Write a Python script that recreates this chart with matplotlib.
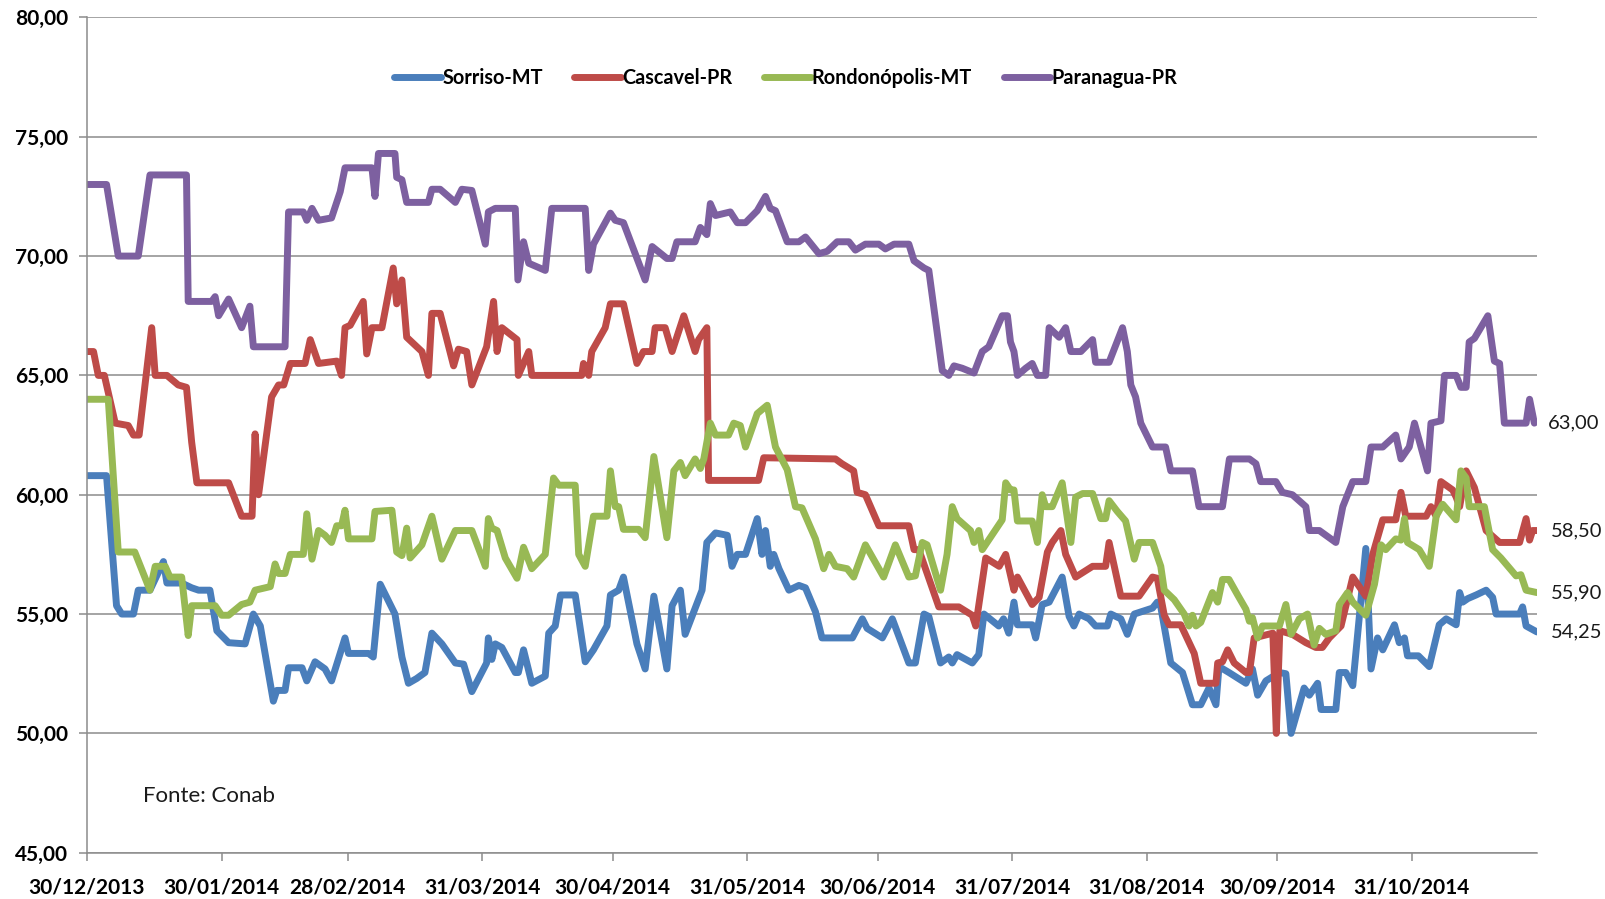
import matplotlib

matplotlib.use("Agg")
import matplotlib.pyplot as plt
import numpy as np
import pandas as pd

plt.rcParams["font.family"] = ["Lato", "DejaVu Sans"]

INICIO = pd.Timestamp("2013-12-30")   # primeiro dia da série
FIM_DIAS = 333.8                       # último dia plotado (dias desde INICIO)

# (dias desde 30/12/2013, preço)
sorriso = [
    (0, 60.8), (4.5, 60.8), (6.8, 55.35), (8, 55.0), (10.7, 55.0), (11.8, 56.0), (14.5, 56.0),
    (17.6, 57.2), (18.4, 56.3), (21.8, 56.3), (24.1, 56.1), (25.7, 56.0), (28.3, 56.0), (29.9, 54.3),
    (32.6, 53.8), (36.4, 53.75), (38.3, 55.0), (39.9, 54.5), (42.9, 51.35), (43.7, 51.8), (45.6, 51.8),
    (46.4, 52.75), (49.5, 52.75), (50.6, 52.2), (52.5, 53.0), (54.8, 52.7), (56.3, 52.2), (59.4, 54.0),
    (60.2, 53.35), (64.8, 53.35), (65.9, 53.2), (67.5, 56.25), (70.9, 55.0), (72.5, 53.2), (74, 52.1),
    (75.9, 52.3), (77.8, 52.55), (79.4, 54.2), (81.7, 53.75), (84.8, 52.95), (86.7, 52.9), (88.6, 51.75),
    (92, 52.95), (92.4, 54.0), (93.2, 53.1), (94, 53.75), (95.5, 53.6), (98.6, 52.55), (99.3, 52.55),
    (100.5, 53.5), (102.4, 52.1), (105.5, 52.4), (106.3, 54.2), (107.8, 54.5), (109, 55.8), (112.4, 55.8),
    (114.7, 53.0), (116.6, 53.5), (119.7, 54.5), (120.5, 55.8), (122.4, 56.0), (123.5, 56.55), (126.6, 53.75),
    (128.5, 52.7), (130.5, 55.75), (133.5, 52.7), (134.7, 55.35), (136.6, 56.0), (137.7, 54.15), (141.6, 56.0),
    (142.7, 58.0), (144.7, 58.4), (147.4, 58.3), (148.5, 57.0), (149.7, 57.5), (151.6, 57.5), (154.3, 59.0),
    (155.4, 57.5), (156.2, 58.5), (157.3, 57.0), (158.1, 57.5), (159.3, 56.9), (161.6, 56.0), (163.9, 56.2),
    (165.4, 56.1), (167.7, 55.1), (169.2, 54.0), (176.2, 54.0), (178.5, 54.8), (179.6, 54.4), (183.1, 54.0),
    (185.4, 54.8), (189.2, 52.95), (190.7, 52.95), (192.7, 55.0), (193.8, 54.9), (196.5, 52.95), (198.4, 53.2),
    (199.2, 52.95), (200.3, 53.3), (203.8, 52.95), (205.3, 53.3), (206.5, 55.0), (209.9, 54.5), (211, 54.8),
    (212.2, 54.2), (213.4, 55.5), (214.2, 54.55), (217.6, 54.55), (218.4, 54.0), (219.9, 55.4), (221.5, 55.5),
    (224.5, 56.55), (226.1, 54.9), (227.2, 54.5), (228.4, 55.0), (230.7, 54.8), (232.2, 54.5), (234.9, 54.5),
    (235.7, 55.0), (238, 54.8), (239.5, 54.15), (241.1, 55.0), (245.3, 55.25), (246.4, 55.5), (247.2, 55.3),
    (249.5, 52.95), (252.2, 52.55), (254.5, 51.2), (256.4, 51.2), (258.3, 51.9), (259.9, 51.2), (260.6, 52.8),
    (262.9, 52.55), (266.8, 52.1), (268.3, 52.7), (269.5, 51.6), (271.4, 52.2), (274.5, 52.55), (276, 52.5),
    (277.2, 50.0), (280.2, 51.9), (281.4, 51.6), (283.3, 52.1), (284.1, 51.0), (287.5, 51.0), (288.3, 52.55),
    (289.8, 52.55), (291.4, 52.0), (294.4, 57.75), (295.6, 52.7), (297.1, 54.0), (298.3, 53.5), (301, 54.55),
    (302.1, 53.8), (303.3, 54.0), (304, 53.25), (306.5, 53.25), (309, 52.8), (311.3, 54.55), (312.9, 54.8),
    (315.2, 54.55), (316, 55.9), (316.7, 55.5), (317.9, 55.65), (319.8, 55.8), (322.1, 56.0), (323.6, 55.7),
    (324.4, 55.0), (329.8, 55.0), (330.5, 55.3), (331.3, 54.5), (333.8, 54.25),
]

cascavel = [
    (0, 66.0), (1.5, 66.0), (2.6, 65.0), (4.0, 65.0), (6.5, 63.0), (9.5, 62.9), (10.7, 62.5), (12.0, 62.5),
    (14.9, 67.0), (15.7, 65.0), (18.4, 65.0), (21, 64.6), (22.9, 64.5), (24.1, 62.2), (25.3, 60.5), (32.6, 60.5),
    (35.6, 59.1), (38, 59.1), (38.7, 62.55), (39.5, 60.0), (42.5, 64.1), (44.1, 64.6), (45.3, 64.6), (46.8, 65.5),
    (50.2, 65.5), (51.4, 66.5), (53.3, 65.5), (57.5, 65.6), (58.6, 65.0), (59.4, 67.0), (60.6, 67.1), (63.6, 68.1),
    (64.4, 65.9), (65.6, 67.0), (67.9, 67.0), (70.5, 69.5), (71.3, 68.0), (72.5, 69.0), (73.6, 66.6), (77.1, 66.0),
    (78.6, 65.0), (79.4, 67.6), (81.3, 67.6), (84.4, 65.4), (85.5, 66.1), (87.4, 66.0), (88.6, 64.6), (92, 66.2),
    (93.6, 68.1), (94.4, 66.0), (95.5, 67.0), (99, 66.5), (99.3, 65.0), (101.7, 66.0), (102.4, 65.0), (113.9, 65.0),
    (114.3, 65.5), (115.5, 65.0), (116.2, 66.0), (119.3, 67.0), (120.5, 68.0), (123.5, 68.0), (126.6, 65.5),
    (128.1, 66.0), (130.1, 66.0), (130.8, 67.0), (133.1, 67.0), (134.7, 66.0), (137.4, 67.5), (140, 66.0),
    (140.8, 66.5), (142.7, 67.0), (143.1, 60.6), (154.6, 60.6), (155.8, 61.55), (172.3, 61.5), (173.8, 61.3),
    (176.5, 61.0), (177.3, 60.1), (179.2, 60.0), (182.3, 58.7), (189.2, 58.7), (190.4, 57.7), (191.5, 57.7),
    (196.1, 55.3), (200.7, 55.3), (203.8, 54.95), (204.6, 54.5), (206.9, 57.35), (210, 57.0), (211.5, 57.5),
    (213.4, 56.0), (214.2, 56.55), (217.6, 55.4), (219.2, 55.7), (221.1, 57.6), (222.2, 58.0), (224.2, 58.5),
    (225.3, 57.5), (227.6, 56.55), (231.5, 57.0), (234.5, 57.0), (235.3, 58.0), (238, 55.75), (242.2, 55.75),
    (245.3, 56.55), (246.4, 56.5), (248, 54.95), (249.1, 54.55), (251.8, 54.55), (254.9, 53.35), (256.4, 52.1),
    (259.9, 52.1), (260.3, 52.95), (261.4, 53.0), (262.6, 53.5), (264.1, 52.95), (266.8, 52.55), (267.6, 52.55),
    (268.7, 54.0), (273.0, 54.2), (273.8, 50.0), (274.6, 54.3), (277.5, 54.15), (280.6, 53.8), (282.9, 53.6),
    (284.4, 53.6), (286, 54.0), (288.7, 54.5), (291.4, 56.55), (294.4, 55.75), (296, 57.5), (298.3, 58.95),
    (301.3, 58.95), (302.5, 60.1), (303.6, 59.1), (308.3, 59.1), (309.4, 59.5), (310.6, 59.1), (311.7, 60.55),
    (314.4, 60.2), (315.2, 59.9), (316, 59.5), (317.5, 61.0), (319.4, 60.3), (322.1, 58.5), (325.2, 58.0),
    (329.8, 58.0), (331.3, 59.0), (332.1, 58.1), (332.8, 58.5), (333.8, 58.5),
]

rondonopolis = [
    (0, 64.0), (4.9, 64.0), (7.2, 57.6), (11, 57.6), (14.5, 56.0), (15.7, 57.0), (18, 57.0), (19.1, 56.55),
    (21.8, 56.55), (23.3, 54.1), (24.1, 55.35), (29.5, 55.35), (31, 54.95), (32.6, 54.95), (35.6, 55.4),
    (37.5, 55.5), (38.7, 56.0), (42.2, 56.15), (43.3, 57.1), (44.1, 56.7), (45.6, 56.7), (46.8, 57.5),
    (49.8, 57.5), (50.6, 59.2), (51.8, 57.3), (53.3, 58.5), (54.8, 58.3), (56.3, 58.0), (57.5, 58.7),
    (58.6, 58.7), (59.4, 59.35), (60.2, 58.15), (65.6, 58.15), (66.3, 59.3), (70.2, 59.35), (71.3, 57.6),
    (72.5, 57.45), (73.6, 58.6), (74.4, 57.35), (77.1, 57.9), (79.4, 59.1), (81.7, 57.3), (84.8, 58.5),
    (88.6, 58.5), (91.7, 57.0), (92.4, 59.0), (93.2, 58.6), (94.4, 58.5), (96.3, 57.35), (99, 56.5),
    (100.5, 57.8), (102.4, 56.9), (105.5, 57.5), (107.4, 60.7), (108.6, 60.4), (112.4, 60.4), (113.2, 57.5),
    (114.7, 57.0), (116.6, 59.1), (119.7, 59.1), (120.5, 61.0), (121.6, 59.5), (122.4, 59.5), (123.5, 58.55),
    (127, 58.55), (128.5, 58.2), (130.5, 61.6), (133.5, 58.2), (135.1, 61.0), (136.6, 61.35), (137.7, 60.8),
    (140, 61.5), (141.2, 61.1), (142, 61.5), (143.5, 63.0), (144.7, 62.5), (147.7, 62.5), (148.9, 63.0),
    (150.4, 62.9), (151.6, 62.0), (154.3, 63.4), (156.6, 63.75), (158.5, 62.0), (161.2, 61.05), (163.1, 59.5),
    (164.6, 59.45), (167.7, 58.15), (169.6, 56.9), (170.8, 57.5), (172.3, 57.0), (175, 56.9), (176.5, 56.55),
    (179.2, 57.9), (183.4, 56.55), (186.1, 57.9), (189.2, 56.55), (190.7, 56.6), (192.3, 58.0), (193.4, 57.9),
    (196.5, 56.0), (198, 57.5), (199.2, 59.5), (200.3, 59.0), (203.4, 58.5), (204.2, 58.0), (205.3, 58.5),
    (206.1, 57.7), (210.7, 58.95), (211.5, 60.5), (212.6, 60.2), (213.4, 60.2), (214.2, 58.9), (217.6, 58.9),
    (218.8, 58.0), (219.9, 60.0), (220.7, 59.5), (222.2, 59.5), (224.5, 60.5), (226.5, 58.0), (227.6, 59.9),
    (229.2, 60.05), (231.5, 60.05), (233.4, 59.0), (234.5, 59.0), (235.3, 59.75), (237.2, 59.3), (239.1, 58.9),
    (241.1, 57.3), (242.2, 58.0), (245.3, 58.0), (247.2, 57.0), (248, 56.0), (250.3, 55.6), (252.6, 55.0),
    (253.7, 54.5), (254.5, 54.95), (255.3, 54.5), (256.4, 54.65), (259.1, 55.9), (260.3, 55.5), (261.4, 56.45),
    (262.9, 56.45), (264.9, 55.8), (266.8, 55.2), (267.6, 54.7), (268.3, 54.85), (269.5, 54.0), (270.6, 54.5),
    (274.5, 54.5), (276, 55.4), (277.2, 54.15), (279.1, 54.8), (281, 55.0), (282.5, 53.7), (283.7, 54.4),
    (285.2, 54.15), (287.5, 54.3), (288.3, 55.4), (290.2, 55.9), (291.4, 55.5), (294.4, 54.95), (296.4, 56.25),
    (297.9, 57.9), (299, 57.7), (301.3, 58.15), (302.5, 58.1), (303.3, 59.0), (304, 58.0), (306.7, 57.7),
    (309, 57.0), (310.6, 59.1), (312.1, 59.6), (315.2, 58.95), (316.3, 61.0), (317.5, 60.7), (318.2, 59.5),
    (321.7, 59.5), (323.6, 57.7), (325.5, 57.35), (329, 56.6), (330.1, 56.65), (331.3, 56.0), (333.8, 55.9),
]

paranagua = [
    (0, 73.0), (4.5, 73.0), (7.2, 70.0), (11.8, 70.0), (14.5, 73.4), (22.9, 73.4), (23.3, 68.1), (28.7, 68.1),
    (29.5, 68.3), (30.3, 67.5), (32.6, 68.2), (35.6, 67.0), (37.5, 67.9), (38.3, 66.2), (45.6, 66.2),
    (46.4, 71.85), (49.8, 71.85), (50.6, 71.5), (51.8, 72.0), (53.3, 71.5), (56.3, 71.6), (58.3, 72.7),
    (59.4, 73.7), (65.6, 73.7), (66.3, 72.5), (67.1, 74.3), (70.9, 74.3), (71.3, 73.3), (72.5, 73.2),
    (73.6, 72.25), (78.6, 72.25), (79.4, 72.8), (81.3, 72.8), (84.8, 72.25), (86.3, 72.8), (88.6, 72.75),
    (91.7, 70.5), (92.4, 71.85), (94, 72.0), (98.6, 72.0), (99.2, 69.0), (100.5, 70.6), (101.7, 69.7),
    (105.5, 69.4), (107, 72.0), (114.7, 72.0), (115.5, 69.4), (116.6, 70.5), (120.5, 71.8), (121.6, 71.5),
    (123.5, 71.4), (128.5, 69.0), (130.1, 70.4), (133.5, 69.9), (134.7, 69.9), (135.8, 70.6), (140, 70.6),
    (141.2, 71.2), (142.7, 70.9), (143.5, 72.2), (144.7, 71.7), (148.1, 71.85), (149.7, 71.4), (151.6, 71.4),
    (154.3, 71.9), (156.2, 72.5), (157.3, 72.0), (158.5, 71.9), (161.2, 70.6), (163.9, 70.6), (165.4, 70.8),
    (168.5, 70.1), (170.4, 70.2), (172.7, 70.6), (175.4, 70.6), (176.9, 70.25), (179.2, 70.5), (182.3, 70.5),
    (183.8, 70.3), (185.8, 70.5), (189.2, 70.5), (190.4, 69.8), (192.7, 69.5), (193.8, 69.4), (196.9, 65.2),
    (198.4, 65.0), (199.6, 65.4), (201.5, 65.3), (204.2, 65.1), (206.1, 66.0), (207.6, 66.2), (210.7, 67.5),
    (211.9, 67.5), (212.6, 66.4), (213.4, 66.0), (214.2, 65.0), (216.1, 65.3), (217.6, 65.5), (218.8, 65.0),
    (220.7, 65.0), (221.5, 67.0), (223.8, 66.6), (225.3, 67.0), (226.5, 66.0), (228.8, 66.0), (231.5, 66.5),
    (232.2, 65.55), (235.3, 65.55), (238.4, 67.0), (239.5, 66.0), (240.3, 64.6), (241.4, 64.1), (242.6, 63.0),
    (245.3, 62.0), (248.3, 62.0), (249.5, 61.0), (254.5, 61.0), (256, 59.5), (261.4, 59.5), (263, 61.5),
    (267.6, 61.5), (269.1, 61.3), (270.2, 60.55), (273.7, 60.55), (275.2, 60.1), (277.5, 60.0), (280.6, 59.5),
    (281.4, 58.5), (283.7, 58.5), (287.5, 58.0), (289.1, 59.5), (291.4, 60.55), (294.4, 60.55), (295.6, 62.0),
    (298.3, 62.0), (301.3, 62.5), (302.5, 61.5), (304.4, 62.0), (305.6, 63.0), (308.6, 61.0), (309.4, 63.0),
    (311.7, 63.1), (312.5, 65.0), (315.2, 65.0), (316.3, 64.5), (317.5, 64.5), (318.2, 66.4), (319.4, 66.55),
    (322.5, 67.5), (324, 65.6), (325.2, 65.5), (326.3, 63.0), (331.3, 63.0), (332.1, 64.0), (333.2, 63.0),
]

series = [
    ("Sorriso-MT", sorriso, "#4A7EBB"),
    ("Cascavel-PR", cascavel, "#BE4B48"),
    ("Rondonópolis-MT", rondonopolis, "#98B954"),
    ("Paranagua-PR", paranagua, "#7D60A0"),
]
rotulos_finais = ["54,25", "58,50", "55,90", "63,00"]

x_ticks = ["30/12/2013", "30/01/2014", "28/02/2014", "31/03/2014", "30/04/2014", "31/05/2014",
           "30/06/2014", "31/07/2014", "31/08/2014", "30/09/2014", "31/10/2014"]
y_ticks = [45, 50, 55, 60, 65, 70, 75, 80]


def fmt(v):
    return f"{v:.2f}".replace(".", ",")


fig = plt.figure(figsize=(16.05, 8.99), dpi=100)
ax = fig.add_axes([0.0542, 0.0515, 0.9034, 0.9291])

for (nome, dados, cor), rot in zip(series, rotulos_finais):
    d, v = np.array(dados).T
    datas = INICIO + pd.to_timedelta(d, unit="D")
    ax.plot(datas, v, color=cor, lw=5, label=nome, solid_joinstyle="round",
            solid_capstyle="round")
    ax.annotate(rot, (datas[-1], v[-1]), xytext=(10, 0), textcoords="offset points",
                va="center", ha="left", fontsize=14.5, color="#1a1a1a", annotation_clip=False)

ax.set_xlim(INICIO, INICIO + pd.Timedelta(days=FIM_DIAS))
ax.set_ylim(45, 80)
ax.set_yticks(y_ticks)
ax.set_yticklabels([fmt(v) for v in y_ticks], fontweight="bold", fontsize=15)
ax.set_xticks(pd.to_datetime(x_ticks, dayfirst=True))
ax.set_xticklabels(x_ticks, fontweight="bold", fontsize=15)
ax.tick_params(axis="x", length=6, width=1.1, color="#8c8c8c", pad=12)
ax.tick_params(axis="y", length=5.5, width=1.1, color="#8c8c8c", pad=8)

ax.grid(axis="y", color="#8c8c8c", lw=1.1)
ax.set_axisbelow(True)
for s in ["top", "right"]:
    ax.spines[s].set_visible(False)
for s in ["left", "bottom"]:
    ax.spines[s].set_color("#8c8c8c")
    ax.spines[s].set_linewidth(1.1)

leg = ax.legend(loc="center", bbox_to_anchor=(0.482, 0.927), ncols=4, frameon=False,
                handlelength=2.35, handletextpad=0.05, columnspacing=1.6,
                prop={"size": 14.3, "weight": "bold"})

ax.text(0.0386, 0.068, "Fonte: Conab", transform=ax.transAxes, fontsize=16,
        va="center", ha="left", color="#1a1a1a")

fig.savefig("out.png", dpi=100)
